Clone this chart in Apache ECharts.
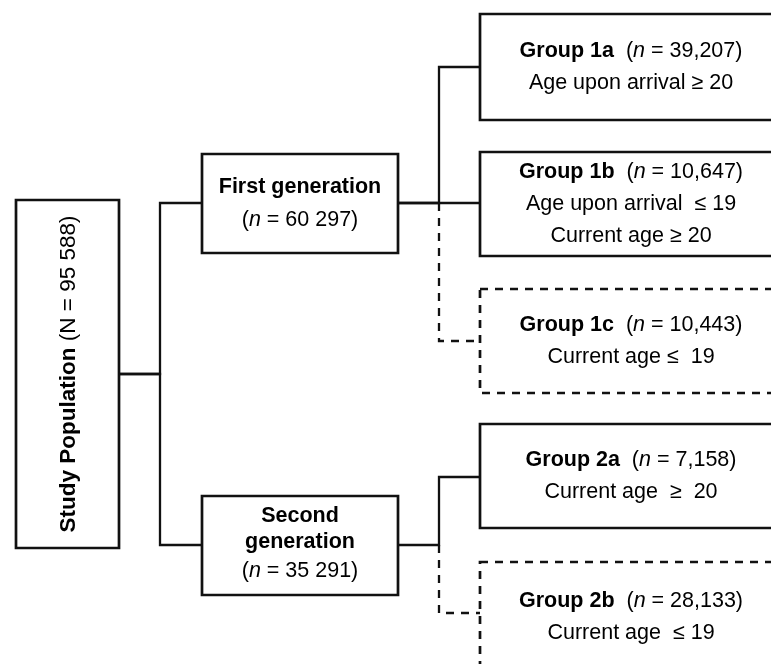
<!DOCTYPE html>
<html><head><meta charset="utf-8">
<script src="https://cdn.jsdelivr.net/npm/echarts@6/dist/echarts.min.js"></script>
<style>html,body{margin:0;padding:0;background:#fff}#c{width:771px;height:664px}</style>
</head><body><div id="c"></div>
<script>
// ---- data ----
const nodeIds = ['root', 'gen1', 'gen2', 'g1a', 'g1b', 'g1c', 'g2a', 'g2b'];
const nodeTitles = ['Study Population', 'First generation', 'Second\ngeneration', 'Group 1a', 'Group 1b', 'Group 1c', 'Group 2a', 'Group 2b'];
const nodeCounts = ['95 588', '60 297', '35 291', '39,207', '10,647', '10,443', '7,158', '28,133'];
const nodeCriteria = [[], [], [], ['Age upon arrival \u2265 20'], ['Age upon arrival  \u2264 19', 'Current age \u2265 20'], ['Current age \u2264  19'], ['Current age  \u2265  20'], ['Current age  \u2264 19']];
const nodeDashed = [false, false, false, false, false, true, false, true];
const links = [['root', 'gen1'], ['root', 'gen2'], ['gen1', 'g1a'], ['gen1', 'g1b'], ['gen1', 'g1c'], ['gen2', 'g2a'], ['gen2', 'g2b']];

// ---- layout (positions in axis units) ----
const layout = {
  root: {x0: 16, y0: 200, x1: 119, y1: 548, vertical: true, tx: 69},
  gen1: {x0: 202, y0: 154, x1: 398, y1: 253},
  gen2: {x0: 202, y0: 496, x1: 398, y1: 595},
  g1a: {x0: 480, y0: 14, x1: 778, y1: 120, tx: 631},
  g1b: {x0: 480, y0: 152, x1: 778, y1: 256, tx: 631},
  g1c: {x0: 480, y0: 289, x1: 778, y1: 393, tx: 631},
  g2a: {x0: 480, y0: 424, x1: 778, y1: 528, tx: 631},
  g2b: {x0: 480, y0: 562, x1: 778, y1: 700, tx: 631, ty: 617}
};
const linkY = {gen1: 203, gen2: 545, g1a: 67, g1b: 203, g1c: 341, g2a: 477, g2b: 613};
const busX = {root: 160, gen1: 439, gen2: 439};

const FONT = 'Liberation Sans, Arial, Helvetica, sans-serif';
const FS = 21.5;
const rich = {
  b: {fontFamily: FONT, fontWeight: 'bold', fontSize: FS, color: '#111', lineHeight: 33},
  b2: {fontFamily: FONT, fontWeight: 'bold', fontSize: FS, color: '#111', lineHeight: 26},
  r: {fontFamily: FONT, fontSize: FS, color: '#111', lineHeight: 32},
  i: {fontFamily: FONT, fontStyle: 'italic', fontSize: FS, color: '#111', lineHeight: 32},
  rv: {fontFamily: FONT, fontSize: 22.5, color: '#111'},
  bv: {fontFamily: FONT, fontWeight: 'bold', fontSize: 22.5, color: '#111'}
};

function labelFor(i) {
  const id = nodeIds[i];
  if (id === 'root') return '{bv|' + nodeTitles[i] + '}{rv| (N = ' + nodeCounts[i] + ')}';
  if (id === 'gen1' || id === 'gen2') {
    const parts = nodeTitles[i].split('\n');
    const st = parts.length > 1 ? 'b2' : 'b';
    const t = parts.map(s => '{' + st + '|' + s + '}').join('\n');
    return t + '\n{r|(}{i|n}{r| = ' + nodeCounts[i] + ')}';
  }
  let s = '{b|' + nodeTitles[i] + '}{r|  (}{i|n}{r| = ' + nodeCounts[i] + ')}';
  nodeCriteria[i].forEach(c => { s += '\n{r|' + c + '}'; });
  return s;
}

const boxData = nodeIds.map((id, i) => {
  const L = layout[id];
  return {value: [L.x0, L.y0, L.x1, L.y1], name: id, idx: i};
});

// connector polylines
const solidLines = [], dashedLines = [];
links.forEach(([a, b]) => {
  const A = layout[a], B = layout[b];
  const ay = a === 'root' ? (A.y0 + A.y1) / 2 : linkY[a];
  const by = linkY[b];
  const bx = busX[a];
  const di = nodeIds.indexOf(b);
  if (a !== 'root' && nodeDashed[di]) {
    dashedLines.push({coords: [[bx, ay], [bx, by], [B.x0, by]]});
  } else {
    solidLines.push({coords: [[A.x1, ay], [bx, ay], [bx, by], [B.x0, by]]});
  }
});

const chart = echarts.init(document.getElementById('c'));
chart.setOption({
  animation: false,
  grid: {left: 0, right: 0, top: 0, bottom: 0},
  xAxis: {type: 'value', min: 0, max: 771, show: false},
  yAxis: {type: 'value', min: 0, max: 664, inverse: true, show: false},
  series: [
    {
      type: 'lines', coordinateSystem: 'cartesian2d', polyline: true, silent: true,
      lineStyle: {color: '#111', width: 2.3, opacity: 1, cap: 'square'},
      data: solidLines, z: 1
    },
    {
      type: 'lines', coordinateSystem: 'cartesian2d', polyline: true, silent: true,
      lineStyle: {color: '#111', width: 2.3, opacity: 1, type: [8, 7]},
      data: dashedLines, z: 1
    },
    {
      type: 'custom', coordinateSystem: 'cartesian2d', silent: true, z: 2,
      data: boxData,
      renderItem: function (params, api) {
        const d = boxData[params.dataIndex];
        const i = d.idx;
        const L = layout[nodeIds[i]];
        const p0 = api.coord([api.value(0), api.value(1)]);
        const p1 = api.coord([api.value(2), api.value(3)]);
        const x = p0[0], y = p0[1], w = p1[0] - p0[0], h = p1[1] - p0[1];
        const tc = api.coord([
          L.tx != null ? L.tx : (L.x0 + L.x1) / 2,
          L.ty != null ? L.ty : (L.y0 + L.y1) / 2
        ]);
        const children = [{
          type: 'rect',
          shape: {x: x, y: y, width: w, height: h},
          style: {fill: '#fff', stroke: '#111', lineWidth: 2.7, lineDash: nodeDashed[i] ? [8, 7] : null}
        }];
        const text = {
          type: 'text',
          x: tc[0], y: tc[1],
          style: {text: labelFor(i), rich: rich, align: 'center', verticalAlign: 'middle'}
        };
        if (L.vertical) text.rotation = Math.PI / 2;
        children.push(text);
        return {type: 'group', children: children};
      }
    }
  ]
});
</script></body></html>
